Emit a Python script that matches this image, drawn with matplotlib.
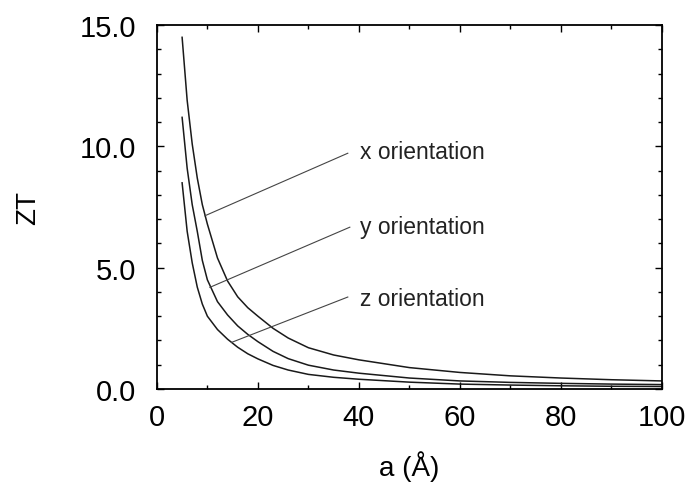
import matplotlib
matplotlib.use('Agg')
import matplotlib.pyplot as plt
from matplotlib.ticker import MultipleLocator, FormatStrFormatter

plt.rcParams['font.family'] = ['Liberation Sans', 'DejaVu Sans']

# a (Angstrom) sample points
a_vals = [5, 6, 7, 8, 9, 10, 12, 14, 16, 18, 20, 23, 26, 30, 35, 40, 50, 60, 70, 80, 90, 100]

zt_x = [14.5, 11.9, 10.1, 8.7, 7.6, 6.8, 5.4, 4.45, 3.8, 3.35, 3.0, 2.5, 2.1, 1.7, 1.4, 1.2,
        0.88, 0.68, 0.54, 0.45, 0.38, 0.33]
zt_y = [11.2, 9.1, 7.6, 6.5, 5.3, 4.5, 3.6, 3.05, 2.6, 2.25, 1.95, 1.55, 1.25, 0.98, 0.78, 0.65,
        0.45, 0.33, 0.27, 0.23, 0.2, 0.18]
zt_z = [8.5, 6.5, 5.2, 4.2, 3.5, 3.0, 2.45, 2.05, 1.72, 1.45, 1.24, 0.97, 0.78, 0.6, 0.48, 0.4,
        0.28, 0.2, 0.16, 0.13, 0.11, 0.1]

labels = ['x orientation', 'y orientation', 'z orientation']
# leader line: point on curve -> point near label
leader_start = [(9.5, 7.14), (10.5, 4.19), (14.8, 1.92)]
leader_end = [(37.8, 9.72), (38.2, 6.67), (37.8, 3.79)]
text_pos = [(40.2, 9.8), (40.2, 6.7), (40.2, 3.75)]

fig = plt.figure(figsize=(6.91, 4.85), dpi=100)
ax = fig.add_axes([0.227, 0.196, 0.731, 0.750])

for zt in (zt_x, zt_y, zt_z):
    ax.plot(a_vals, zt, color='#1a1a1a', lw=1.1)

for (x0, y0), (x1, y1), (tx, ty), lab in zip(leader_start, leader_end, text_pos, labels):
    ax.plot([x0, x1], [y0, y1], color='#444444', lw=0.8)
    ax.text(tx, ty, lab, fontsize=16.5, va='center', ha='left', color='#222222')

ax.set_xlim(0, 100)
ax.set_ylim(0, 15)
ax.xaxis.set_major_locator(MultipleLocator(20))
ax.xaxis.set_minor_locator(MultipleLocator(10))
ax.yaxis.set_major_locator(MultipleLocator(5))
ax.yaxis.set_minor_locator(MultipleLocator(1))
ax.yaxis.set_major_formatter(FormatStrFormatter('%.1f'))

ax.tick_params(which='both', direction='in', top=True, right=True, width=1.0)
ax.tick_params(which='major', length=5)
ax.tick_params(which='minor', length=3)
ax.tick_params(axis='x', labelsize=21, pad=10)
ax.tick_params(axis='y', labelsize=21, pad=15)
for sp in ax.spines.values():
    sp.set_linewidth(1.3)

ax.set_xlabel('a (Å)', fontsize=20, labelpad=14)
ax.set_ylabel('ZT', fontsize=20, labelpad=28)

fig.savefig('out.png', dpi=100)
